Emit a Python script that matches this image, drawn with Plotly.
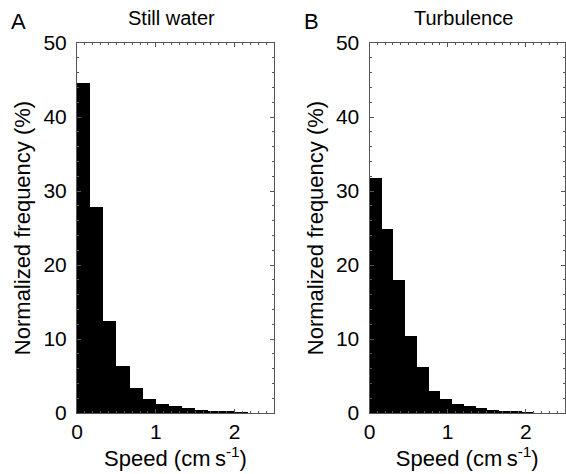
import plotly.graph_objects as go

# ---- data ----
still_bin_width = 1 / 6      # cm s-1
turb_bin_width = 0.15        # cm s-1
still_water_pct = [44.6, 27.8, 12.4, 6.3, 3.4, 1.9, 1.2, 0.9, 0.65, 0.42, 0.28, 0.18, 0.1]
turbulence_pct = [31.8, 24.8, 18.0, 10.45, 6.2, 3.0, 1.9, 1.2, 0.95, 0.63, 0.4, 0.27, 0.14, 0.05]
panel_titles = ["Still water", "Turbulence"]
panel_letters = ["A", "B"]
x_ticks = [0, 1, 2]
y_ticks = [0, 10, 20, 30, 40, 50]
x_range = [0, 2.5]
y_range = [0, 50]

FONT = "Liberation Sans, Arial, sans-serif"
AX = "#555"


def centers(vals, w):
    return [(i + 0.5) * w for i in range(len(vals))]


fig = go.Figure()
fig.add_trace(go.Bar(x=centers(still_water_pct, still_bin_width), y=still_water_pct,
                     width=still_bin_width, marker=dict(color="black", line=dict(width=0)),
                     xaxis="x", yaxis="y", showlegend=False, hoverinfo="x+y"))
fig.add_trace(go.Bar(x=centers(turbulence_pct, turb_bin_width), y=turbulence_pct,
                     width=turb_bin_width, marker=dict(color="black", line=dict(width=0)),
                     xaxis="x2", yaxis="y2", showlegend=False, hoverinfo="x+y"))

ydom = [1 - 413 / 474, 1 - 43 / 474]
xdomA = [77 / 566, 274 / 566]
xdomB = [369.5 / 566, 565 / 566]

base = dict(showline=True, linecolor=AX, linewidth=1, mirror="allticks", ticks="inside",
            tickcolor=AX, tickwidth=1, showgrid=False, zeroline=False, automargin=False,
            tickfont=dict(family=FONT, size=21, color="black"))

xmain = dict(base, range=x_range, tickvals=x_ticks, ticklen=4,
             minor=dict(ticks="inside", dtick=0.1, ticklen=2, tickcolor=AX, showgrid=False),
             title=dict(text="Speed (cm\u2009s<sup>-1</sup>)",
                        font=dict(family=FONT, size=22, color="black"), standoff=0))
ymain = dict(base, range=y_range, tickvals=y_ticks, ticklen=4, ticklabelstandoff=5,
             minor=dict(ticks="inside", dtick=2, ticklen=2, tickcolor=AX, showgrid=False),
             title=dict(text="Normalized frequency (%)",
                        font=dict(family=FONT, size=22, color="black"), standoff=6))

fig.update_layout(
    width=566, height=474,
    margin=dict(l=0, r=0, t=0, b=0),
    paper_bgcolor="white", plot_bgcolor="white",
    bargap=0,
    xaxis=dict(xmain, domain=xdomA, anchor="y"),
    yaxis=dict(ymain, domain=ydom, anchor="x"),
    xaxis2=dict(xmain, domain=xdomB, anchor="y2"),
    yaxis2=dict(ymain, domain=ydom, anchor="x2"),
)

annotations = []
for dom, title, letter in [(xdomA, panel_titles[0], panel_letters[0]),
                           (xdomB, panel_titles[1], panel_letters[1])]:
    annotations.append(dict(text=title, x=(dom[0] + dom[1]) / 2 - 4 / 566, y=1 - 18 / 474,
                            xref="paper", yref="paper", showarrow=False,
                            xanchor="center", yanchor="middle",
                            font=dict(family=FONT, size=20, color="black")))
    annotations.append(dict(text=letter, x=dom[0] - 58 / 566, y=1 - 22 / 474,
                            xref="paper", yref="paper", showarrow=False,
                            xanchor="center", yanchor="middle",
                            font=dict(family=FONT, size=22, color="black")))
fig.update_layout(annotations=annotations)

fig.write_html("out.html", config={"displayModeBar": False},
               post_script="document.body.style.margin='0px';document.body.style.overflow='hidden';")
